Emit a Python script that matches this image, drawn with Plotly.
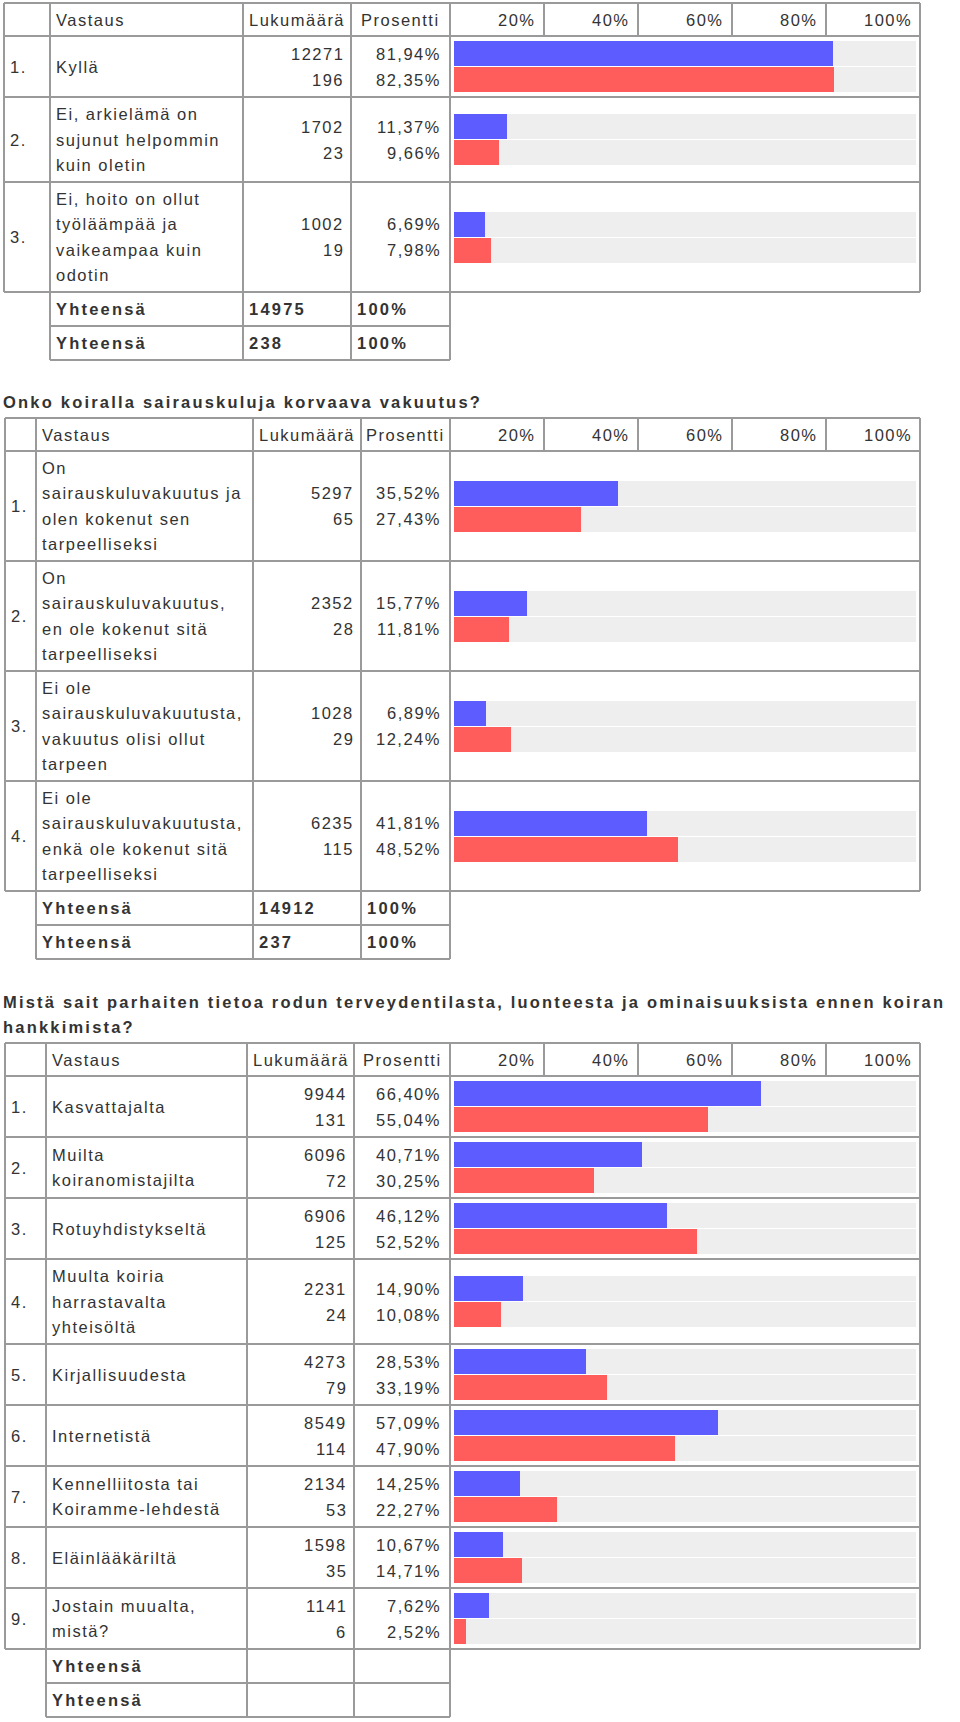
import plotly.graph_objects as go

# ---------------- data ----------------
HEADER = ["Vastaus", "Lukumäärä", "Prosentti"]
SCALE_TICKS = ["20%", "40%", "60%", "80%", "100%"]
TOTAL_LABEL = "Yhteensä"

q1_labels = ["Kyllä",
             "Ei, arkielämä on<br>sujunut helpommin<br>kuin oletin",
             "Ei, hoito on ollut<br>työläämpää ja<br>vaikeampaa kuin<br>odotin"]
q1_count_a = [12271, 1702, 1002]
q1_pct_a = [81.94, 11.37, 6.69]
q1_count_b = [196, 23, 19]
q1_pct_b = [82.35, 9.66, 7.98]
q1_totals = ["14975", "238"]
q1_total_pct = ["100%", "100%"]

q2_title = "Onko koiralla sairauskuluja korvaava vakuutus?"
q2_labels = ["On<br>sairauskuluvakuutus ja<br>olen kokenut sen<br>tarpeelliseksi",
             "On<br>sairauskuluvakuutus,<br>en ole kokenut sitä<br>tarpeelliseksi",
             "Ei ole<br>sairauskuluvakuutusta,<br>vakuutus olisi ollut<br>tarpeen",
             "Ei ole<br>sairauskuluvakuutusta,<br>enkä ole kokenut sitä<br>tarpeelliseksi"]
q2_count_a = [5297, 2352, 1028, 6235]
q2_pct_a = [35.52, 15.77, 6.89, 41.81]
q2_count_b = [65, 28, 29, 115]
q2_pct_b = [27.43, 11.81, 12.24, 48.52]
q2_totals = ["14912", "237"]
q2_total_pct = ["100%", "100%"]

q3_title = ("Mistä sait parhaiten tietoa rodun terveydentilasta, luonteesta ja ominaisuuksista ennen koiran"
            "<br>hankkimista?")
q3_labels = ["Kasvattajalta", "Muilta<br>koiranomistajilta", "Rotuyhdistykseltä",
             "Muulta koiria<br>harrastavalta<br>yhteisöltä", "Kirjallisuudesta", "Internetistä",
             "Kennelliitosta tai<br>Koiramme-lehdestä", "Eläinlääkäriltä", "Jostain muualta,<br>mistä?"]
q3_count_a = [9944, 6096, 6906, 2231, 4273, 8549, 2134, 1598, 1141]
q3_pct_a = [66.40, 40.71, 46.12, 14.90, 28.53, 57.09, 14.25, 10.67, 7.62]
q3_count_b = [131, 72, 125, 24, 79, 114, 53, 35, 6]
q3_pct_b = [55.04, 30.25, 52.52, 10.08, 33.19, 47.90, 22.27, 14.71, 2.52]
q3_totals = ["", ""]
q3_total_pct = ["", ""]

# ---------------- style / layout ----------------
W, H = 960, 1722
FONT = "Liberation Sans, Arial, sans-serif"
FS = 16.5
LS = 1.5
LS_B = 2.2
TXT = "#333333"
BORDER = "#9a9a9a"
BW = 2
BLUE = "#5c5cff"
RED = "#ff5c5c"
TRACK = "#eeeeee"
RIGHT = 920
BAR_L, BAR_R = 454, 916
HEAD_H = 33
TOT_H = 34
LINE_H = 25.5
BAR_H = 25
BAR_OFF = 13

annotations = []
shapes = []


def fmt_pct(v):
    return f"{v:.2f}".replace(".", ",") + "%"


def add_text(px, py, text, anchor="left", bold=False, size=FS):
    if text == "":
        return
    t = f"<span style='letter-spacing:{LS_B if bold else LS}px'>{text}</span>"
    if bold:
        t = "<b>" + t + "</b>"
    annotations.append(dict(x=px / W, y=py, xref="paper", yref="y", text=t,
                            showarrow=False, xanchor=anchor, yanchor="middle",
                            borderpad=0,
                            font=dict(size=size, color=TXT, family=FONT)))


def hline(x0, x1, y):
    shapes.append(dict(type="line", xref="paper", yref="y", x0=x0 / W, x1=x1 / W,
                       y0=y, y1=y, line=dict(color=BORDER, width=BW)))


def vline(x, y0, y1):
    shapes.append(dict(type="line", xref="paper", yref="y", x0=x / W, x1=x / W,
                       y0=y0, y1=y1, line=dict(color=BORDER, width=BW)))


traces = []


def draw_table(top, cols, labels, ca, pa, cb, pb, totals, total_pcts):
    y0, y1 = top, top + HEAD_H
    ym = (y0 + y1) / 2
    add_text(cols[1] + 5, ym, HEADER[0], "left")
    add_text((cols[2] + cols[3]) / 2, ym, HEADER[1], "center")
    add_text((cols[3] + cols[4]) / 2, ym, HEADER[2], "center")
    step = (RIGHT - cols[4]) / len(SCALE_TICKS)
    for k, t in enumerate(SCALE_TICKS):
        add_text(cols[4] + step * (k + 1) - 7, ym, t, "right")
        vline(cols[4] + step * (k + 1), y0, y1)
    hline(cols[0], RIGHT, y0)
    for cx in cols:
        vline(cx, y0, y1)
    hline(cols[0], RIGHT, y1)

    y = y1
    blue_y, red_y = [], []
    for i, lab in enumerate(labels):
        lines = lab.split("<br>")
        n = len(lines)
        h = max(61, 25 * n + 10)
        c = y + h / 2
        add_text(cols[0] + 5, c, f"{i + 1}.", "left")
        for j, ln in enumerate(lines):
            add_text(cols[1] + 5, c + (j - (n - 1) / 2) * LINE_H, ln, "left")
        add_text(cols[3] - 6, c - BAR_OFF, str(ca[i]), "right")
        add_text(cols[3] - 6, c + BAR_OFF, str(cb[i]), "right")
        add_text(cols[4] - 8, c - BAR_OFF, fmt_pct(pa[i]), "right")
        add_text(cols[4] - 8, c + BAR_OFF, fmt_pct(pb[i]), "right")
        blue_y.append(c - BAR_OFF)
        red_y.append(c + BAR_OFF)
        y += h
        hline(cols[0], RIGHT, y)
    body_bottom = y
    for cx in list(cols) + [RIGHT]:
        vline(cx, y1, body_bottom)

    # bars: grey track, then values
    traces.append(go.Bar(orientation="h", x=[100] * (2 * len(labels)), y=blue_y + red_y,
                         width=BAR_H, marker=dict(color=TRACK, line=dict(width=0)),
                         hoverinfo="skip", showlegend=False))
    traces.append(go.Bar(orientation="h", x=pa, y=blue_y, width=BAR_H,
                         marker=dict(color=BLUE, line=dict(width=0)),
                         hoverinfo="skip", showlegend=False))
    traces.append(go.Bar(orientation="h", x=pb, y=red_y, width=BAR_H,
                         marker=dict(color=RED, line=dict(width=0)),
                         hoverinfo="skip", showlegend=False))

    y = body_bottom
    for t, p in zip(totals, total_pcts):
        c = y + TOT_H / 2
        add_text(cols[1] + 5, c, TOTAL_LABEL, "left", bold=True)
        add_text(cols[2] + 5, c, t, "left", bold=True)
        add_text(cols[3] + 5, c, p, "left", bold=True)
        y += TOT_H
        hline(cols[1], cols[4], y)
    for cx in cols[1:]:
        vline(cx, body_bottom, y)


def draw_title(title, ys):
    for ln, ty in zip(title.split("<br>"), ys):
        add_text(2, ty, ln, "left", bold=True, size=16.5)


draw_table(3, [4, 50, 243, 351, 450], q1_labels, q1_count_a, q1_pct_a,
           q1_count_b, q1_pct_b, q1_totals, q1_total_pct)
draw_title(q2_title, [402])
draw_table(418, [5, 36, 253, 361, 450], q2_labels, q2_count_a, q2_pct_a,
           q2_count_b, q2_pct_b, q2_totals, q2_total_pct)
draw_title(q3_title, [1002, 1027])
draw_table(1043, [5, 46, 247, 354, 450], q3_labels, q3_count_a, q3_pct_a,
           q3_count_b, q3_pct_b, q3_totals, q3_total_pct)

fig = go.Figure(traces)
fig.update_layout(
    width=W, height=H, autosize=False,
    margin=dict(l=0, r=0, t=0, b=0, pad=0),
    paper_bgcolor="white", plot_bgcolor="rgba(0,0,0,0)",
    barmode="overlay", bargap=0,
    showlegend=False,
    xaxis=dict(range=[0, 100], domain=[BAR_L / W, BAR_R / W], visible=False, fixedrange=True),
    yaxis=dict(range=[H, 0], domain=[0, 1], visible=False, fixedrange=True),
    annotations=annotations,
    shapes=shapes,
    font=dict(family=FONT, color=TXT),
)
fig.write_html("out.html", config={"displayModeBar": False, "staticPlot": True},
               post_script="document.body.style.margin='0';document.body.style.overflow='hidden';")
